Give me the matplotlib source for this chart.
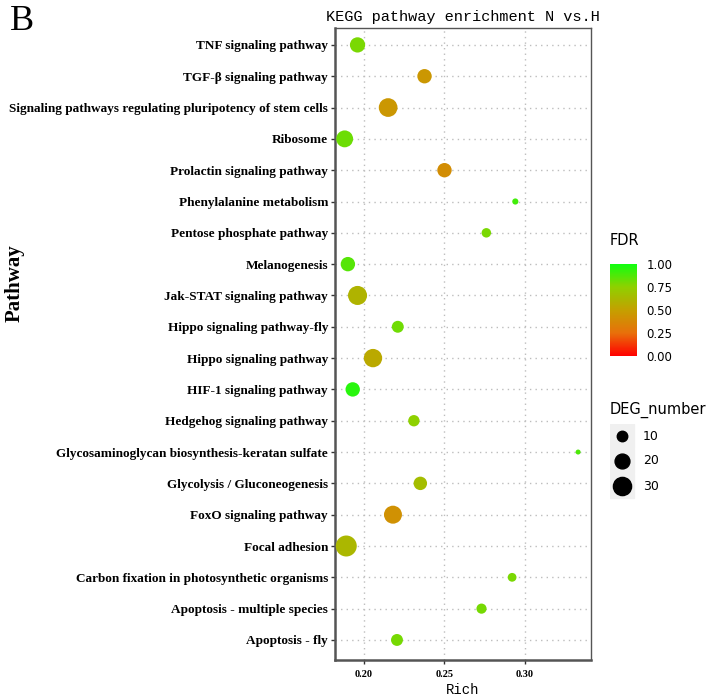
import numpy as np
import matplotlib
matplotlib.use("Agg")
import matplotlib.pyplot as plt
from matplotlib.colors import LinearSegmentedColormap, Normalize
from matplotlib.cm import ScalarMappable

# pathways listed bottom -> top
pathways = [
    "Apoptosis - fly",
    "Apoptosis - multiple species",
    "Carbon fixation in photosynthetic organisms",
    "Focal adhesion",
    "FoxO signaling pathway",
    "Glycolysis / Gluconeogenesis",
    "Glycosaminoglycan biosynthesis-keratan sulfate",
    "Hedgehog signaling pathway",
    "HIF-1 signaling pathway",
    "Hippo signaling pathway",
    "Hippo signaling pathway-fly",
    "Jak-STAT signaling pathway",
    "Melanogenesis",
    "Pentose phosphate pathway",
    "Phenylalanine metabolism",
    "Prolactin signaling pathway",
    "Ribosome",
    "Signaling pathways regulating pluripotency of stem cells",
    "TGF-\u03b2 signaling pathway",
    "TNF signaling pathway",
]
rich = [0.2205, 0.273, 0.292, 0.189, 0.218, 0.235, 0.333, 0.231, 0.193, 0.2056,
        0.221, 0.196, 0.190, 0.276, 0.294, 0.250, 0.188, 0.215, 0.2376, 0.196]
deg_number = [11, 8, 6, 34, 25, 14, 2, 10, 16, 26,
              11, 28, 16, 7, 3, 16, 22, 27, 16, 18]
fdr = [0.80, 0.80, 0.79, 0.62, 0.42, 0.65, 0.88, 0.75, 0.95, 0.55,
       0.81, 0.60, 0.86, 0.79, 0.90, 0.40, 0.82, 0.45, 0.45, 0.79]

x_ticks = [0.20, 0.25, 0.30]
size_breaks = [10, 20, 30]

# red -> green, roughly like ggplot's Lab gradient
cmap = LinearSegmentedColormap.from_list(
    "fdr", [(0.0, "#ff0000"), (0.25, "#e8700a"), (0.5, "#c4a000"),
            (0.75, "#8fd000"), (1.0, "#10ff10")])
norm = Normalize(0, 1)


def msize(n):
    d_px = np.sqrt(25 + 13 * (np.asarray(n, dtype=float) - 2))
    return (d_px * 0.72) ** 2


fig = plt.figure(figsize=(7.18, 6.99), dpi=100)
ax = fig.add_axes([335 / 718, 1 - 660 / 699, 256 / 718, 632 / 699])

ypos = np.arange(len(pathways))
ax.scatter(rich, ypos, s=msize(deg_number), c=fdr, cmap=cmap, norm=norm,
           edgecolors="none", zorder=3)

ax.set_xlim(0.182, 0.341)
ax.set_ylim(-0.64, len(pathways) - 1 + 0.54)
ax.set_xticks(x_ticks)
ax.set_xticklabels(["%.2f" % v for v in x_ticks], family="Liberation Serif",
                   fontweight="bold", fontsize=7.5)
ax.set_yticks(ypos)
ax.set_yticklabels(pathways, family="Liberation Serif", fontweight="bold",
                   fontsize=9.5)
ax.grid(True, color="#bdbdbd", linestyle=(0, (1, 3)), linewidth=1.0, zorder=0)
ax.tick_params(axis="both", length=3, width=1, color="#333333", pad=2)
ax.tick_params(axis="x", pad=4)
for sp in ax.spines.values():
    sp.set_color("#555555")
    sp.set_linewidth(1.0)
ax.spines["left"].set_linewidth(1.8)
ax.spines["bottom"].set_linewidth(1.8)

ax.set_title("KEGG pathway enrichment N vs.H", family="Liberation Mono",
             fontsize=11, pad=5)
ax.set_xlabel("Rich", family="Liberation Mono", fontsize=10, labelpad=3)
fig.text(15 / 718, 1 - 283 / 699, "Pathway", rotation=90, ha="center",
         va="center", family="Liberation Serif", fontweight="bold", fontsize=15)
fig.text(10 / 718, 1 - 22 / 699, "B", ha="left", va="center",
         family="Liberation Serif", fontsize=26)

# FDR colourbar
fig.text(610 / 718, 1 - 240 / 699, "FDR", family="DejaVu Sans", fontsize=10.5,
         va="center")
cax = fig.add_axes([610 / 718, 1 - 356 / 699, 27 / 718, 92 / 699])
cb = fig.colorbar(ScalarMappable(norm=norm, cmap=cmap), cax=cax,
                  ticks=[0, 0.25, 0.5, 0.75, 1.0])
cb.outline.set_visible(False)
cb.ax.set_yticklabels(["0.00", "0.25", "0.50", "0.75", "1.00"],
                      family="DejaVu Sans", fontsize=8.5)
cb.ax.tick_params(length=4, color="white", width=1, pad=3)

# DEG_number size legend
fig.text(610 / 718, 1 - 410 / 699, "DEG_number", family="DejaVu Sans",
         fontsize=10.5, va="center")
lax = fig.add_axes([610 / 718, 1 - 500 / 699, 100 / 718, 76 / 699])
lax.set_xlim(0, 100)
lax.set_ylim(0, 76)
lax.axis("off")
for i, n in enumerate(size_breaks):
    yc = 76 - 12 - i * 25
    lax.add_patch(plt.Rectangle((0, yc - 12), 24, 24, color="#f0f0f0",
                                zorder=1))
    lax.scatter([12], [yc], s=msize(n) * 0.85, color="black", zorder=2)
    lax.text(33, yc, str(n), va="center", family="DejaVu Sans", fontsize=9)

fig.savefig("out.png", dpi=100)
